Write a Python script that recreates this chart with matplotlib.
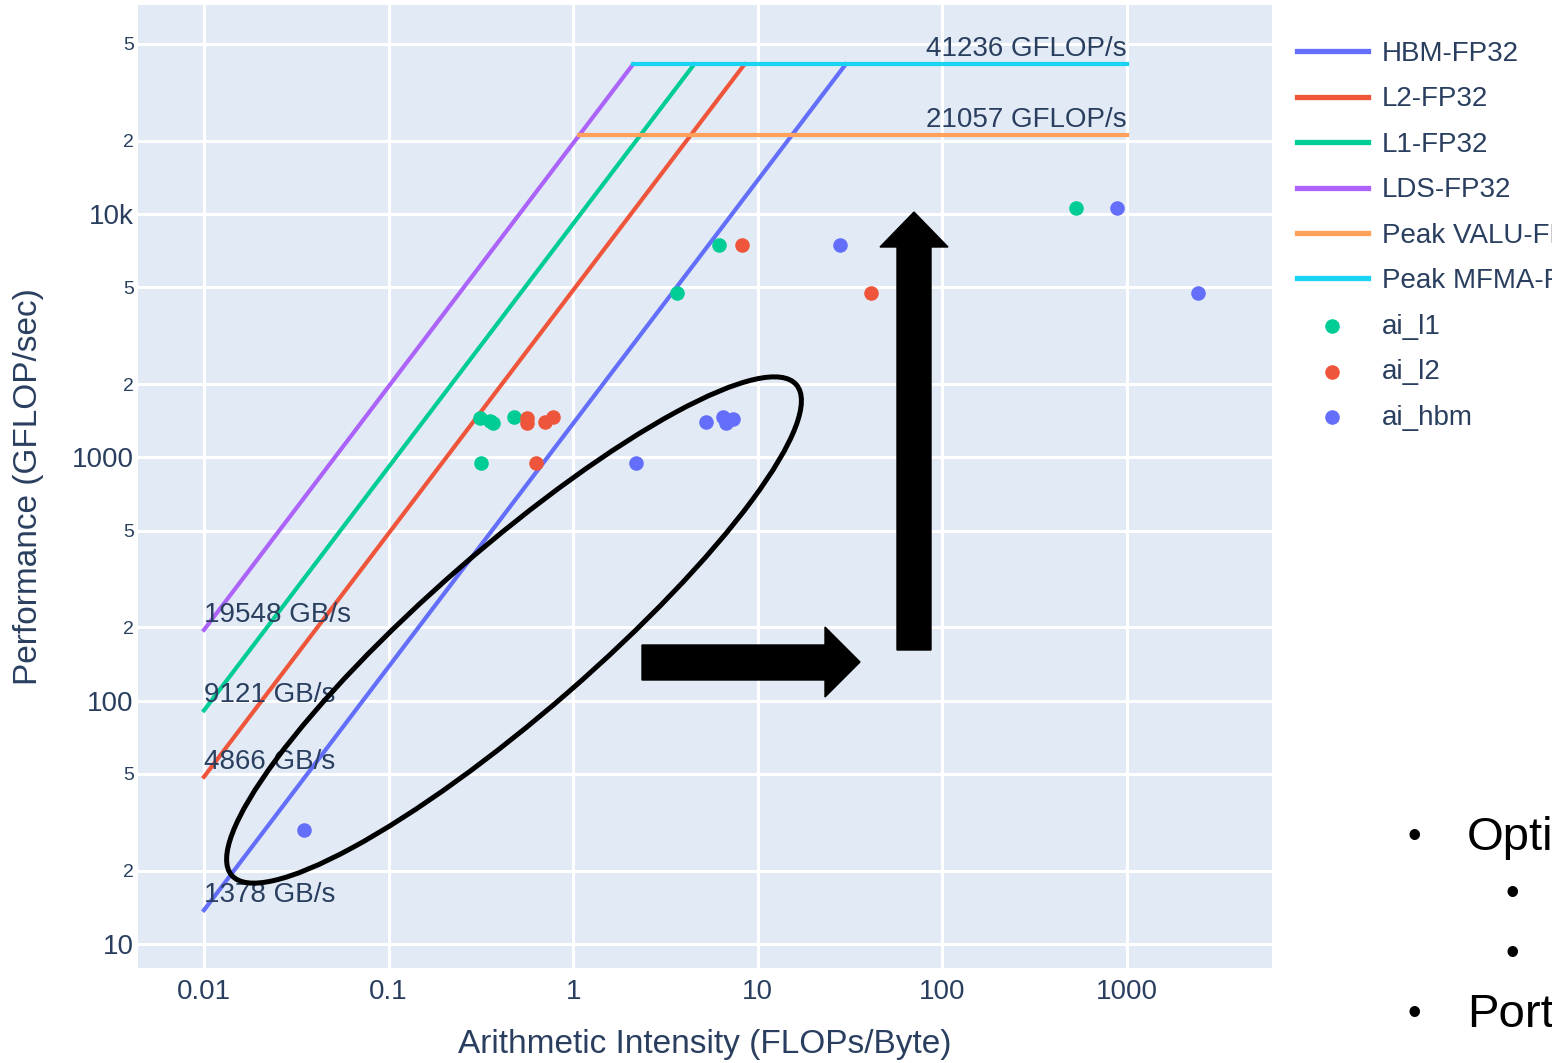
import numpy as np
import matplotlib.pyplot as plt
from matplotlib.patches import Ellipse, Polygon
from matplotlib.transforms import Affine2D

plt.rcParams['font.family'] = ['Liberation Sans', 'DejaVu Sans']
TXT = '#2a3f5f'

# rooflines
bw_names = ['HBM-FP32', 'L2-FP32', 'L1-FP32', 'LDS-FP32']
bw_values = [1378, 4866, 9121, 19548]          # GB/s
bw_colors = ['#636efa', '#ef553b', '#00cc96', '#ab63fa']
peak_names = ['Peak VALU-FP32', 'Peak MFMA-FP32']
peak_values = [21057, 41236]                   # GFLOP/s
peak_colors = ['#ffa15a', '#19d3f3']
ai_min = 0.01
ai_max = 1000

# measured kernels
l1_ai = [0.313, 0.354, 0.368, 0.478, 0.317, 3.65, 6.16, 529]
l1_perf = [1451, 1410, 1384, 1465, 948, 4736, 7457, 10585]
l2_ai = [0.562, 0.562, 0.703, 0.777, 0.629, 8.21, 41.0]
l2_perf = [1451, 1384, 1397, 1465, 948, 7457, 4736]
hbm_ai = [5.24, 6.48, 6.73, 7.34, 2.19, 27.9, 883, 2424, 0.0348]
hbm_perf = [1397, 1465, 1384, 1437, 948, 7457, 10585, 4736, 29.4]

yticks = [10, 20, 50, 100, 200, 500, 1000, 2000, 5000, 10000, 20000, 50000]
ylabels = ['10', '2', '5', '100', '2', '5', '1000', '2', '5', '10k', '2', '5']
xticks = [0.01, 0.1, 1, 10, 100, 1000]
xlabels = ['0.01', '0.1', '1', '10', '100', '1000']

fig = plt.figure(figsize=(15.52, 10.63), dpi=100)
ax = fig.add_axes([138/1552, 95/1063, 1134/1552, 963/1063])
ax.set_facecolor('#e2ebf5')
ax.set_xscale('log')
ax.set_yscale('log')
ax.set_xlim(10**-2.3575, 10**3.7855)
ax.set_ylim(10**0.9014, 10**4.8589)

top = max(peak_values)
lines = []
for name, bw, col in zip(bw_names, bw_values, bw_colors):
    xs = [ai_min, top / bw]
    ys = [ai_min * bw, top]
    l, = ax.plot(xs, ys, color=col, lw=3, label=name, zorder=3)
    lines.append(l)
    ax.text(ai_min, ai_min * bw * 1.02, '%d GB/s' % bw, fontsize=20, color=TXT,
            ha='left', va='bottom', zorder=5)
for name, pk, col in zip(peak_names, peak_values, peak_colors):
    xs = [pk / max(bw_values), ai_max]
    l, = ax.plot(xs, [pk, pk], color=col, lw=3, label=name, zorder=3)
    lines.append(l)
    ax.text(ai_max, pk * 1.02, '%d GFLOP/s' % pk, fontsize=20, color=TXT,
            ha='right', va='bottom', zorder=5)

s1 = ax.scatter(l1_ai, l1_perf, s=110, color='#00cc96', label='ai_l1', zorder=4, lw=0)
s2 = ax.scatter(l2_ai, l2_perf, s=110, color='#ef553b', label='ai_l2', zorder=4, lw=0)
s3 = ax.scatter(hbm_ai, hbm_perf, s=110, color='#636efa', label='ai_hbm', zorder=4, lw=0)

ax.set_xticks(xticks, xlabels)
ax.set_yticks(yticks, ylabels)
ax.minorticks_off()
for t in ax.get_yticklabels():
    t.set_fontsize(20 if t.get_text() in ('10', '100', '1000', '10k') else 14)
ax.tick_params(axis='x', length=0, pad=8, labelsize=20, labelcolor=TXT)
ax.tick_params(axis='y', length=0, pad=3, labelcolor=TXT)
ax.grid(True, color='white', lw=2.2)
ax.set_axisbelow(True)
for sp in ax.spines.values():
    sp.set_visible(False)
ax.set_xlabel('Arithmetic Intensity (FLOPs/Byte)', fontsize=24, color=TXT, labelpad=17)
ax.set_ylabel('Performance (GFLOP/sec)', fontsize=24, color=TXT, labelpad=20)

leg = ax.legend(handles=lines + [s1, s2, s3], loc='upper left',
                bbox_to_anchor=(1297/1552, 1 - 41/1063), bbox_transform=fig.transFigure,
                frameon=False, fontsize=20, labelcolor=TXT, handlelength=2.55,
                handletextpad=0.5, labelspacing=0.70, borderpad=0, borderaxespad=0,
                scatterpoints=1)
for h in leg.legend_handles[:6]:
    h.set_linewidth(3.8)

# hand drawn slide annotations (image pixel coords, y down)
px = Affine2D().scale(1, -1).translate(0, 1063)
fig.patches.append(Ellipse((514, 630), 748, 165, angle=-41, fill=False, ec='black',
                           lw=3.6, transform=px, figure=fig, zorder=6))
fig.patches.append(Polygon([(642, 645), (825, 645), (825, 627), (860, 662), (825, 697),
                            (825, 680), (642, 680)], closed=True, color='black',
                           transform=px, figure=fig, zorder=6))
fig.patches.append(Polygon([(897, 650), (897, 247), (880, 247), (914, 212), (948, 247),
                            (931, 247), (931, 650)], closed=True, color='black',
                           transform=px, figure=fig, zorder=6))

# slide bullets cut off on the right
for xb, yb in [(1414, 838), (1512, 895), (1512, 955), (1414, 1015)]:
    fig.text(xb/1552, 1 - yb/1063, '\u2022', fontsize=28, color='black', ha='center', va='center')
fig.text(1467/1552, 1 - 838/1063, 'Opti', fontsize=34, color='black', ha='left', va='center')
fig.text(1467/1552, 1 - 1015/1063, 'Port', fontsize=34, color='black', ha='left', va='center')

fig.savefig('out.png', dpi=100)
